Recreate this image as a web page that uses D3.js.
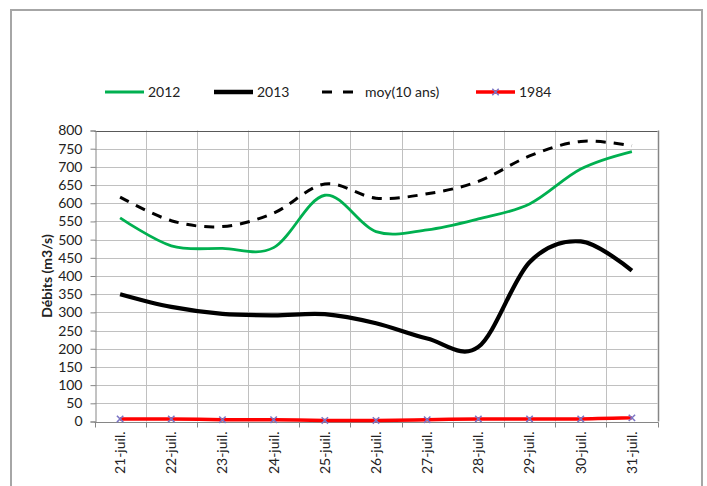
<!DOCTYPE html>
<html><head><meta charset="utf-8">
<script src="https://cdn.jsdelivr.net/npm/d3@7"></script>
<style>
html,body{margin:0;padding:0;background:#fff;}
svg{display:block;font-family:Lato,"Open Sans",sans-serif;}
</style></head>
<body><div id="chart"></div>
<script>
const categories = ["21-juil.","22-juil.","23-juil.","24-juil.","25-juil.","26-juil.","27-juil.","28-juil.","29-juil.","30-juil.","31-juil."];
const s2012 = [560, 483, 476, 478, 622, 522, 527, 557, 598, 694, 742];
const s2013 = [350, 315, 296, 292, 295, 270, 228, 205, 438, 495, 415];
const sMoy  = [617, 552, 536, 573, 653, 614, 626, 660, 730, 770, 758];
const s1984 = [7, 7, 5, 5, 3, 3, 5, 7, 7, 7, 10];
const yTicks = [0,50,100,150,200,250,300,350,400,450,500,550,600,650,700,750,800];
const seriesNames = ["2012","2013","moy(10 ans)","1984"];
const yTitle = "Débits (m3/s)";

const W = 707, H = 486;
const svg = d3.select("#chart").append("svg").attr("width", W).attr("height", H);

// outer chart frame
svg.append("rect").attr("x", 11).attr("y", 10).attr("width", 691).attr("height", 490)
  .attr("fill", "#fff").attr("stroke", "#a6a6a6").attr("stroke-width", 2);

const pL = 94.5, pR = 657.5, pT = 130.5, pB = 421.5;
const x = d3.scaleBand().domain(categories).range([pL, pR]);
const y = d3.scaleLinear().domain([0, 800]).range([pB, pT]);
const cx = c => x(c) + x.bandwidth() / 2;

const g = svg.append("g");
// horizontal gridlines
g.selectAll(".hg").data(yTicks).enter().append("line")
  .attr("x1", pL).attr("x2", pR)
  .attr("y1", d => Math.round(y(d)) + 0.5).attr("y2", d => Math.round(y(d)) + 0.5)
  .attr("stroke", "#c0c0c0").attr("stroke-width", 1);
// vertical gridlines at category boundaries
const bounds = categories.map(c => x(c)).concat([pR]);
g.selectAll(".vg").data(bounds.slice(1, -1)).enter().append("line")
  .attr("x1", d => Math.round(d) + 0.5).attr("x2", d => Math.round(d) + 0.5)
  .attr("y1", pT).attr("y2", pB)
  .attr("stroke", "#c0c0c0").attr("stroke-width", 1);

// plot border
g.append("line").attr("x1", pL).attr("x2", pR).attr("y1", Math.round(pT)+0.5).attr("y2", Math.round(pT)+0.5)
  .attr("stroke", "#595959");
g.append("line").attr("x1", Math.round(pR)+0.5).attr("x2", Math.round(pR)+0.5).attr("y1", pT).attr("y2", pB)
  .attr("stroke", "#868686").attr("stroke-width", 1.5);

// y axis
const yAxis = d3.axisLeft(y).tickValues(yTicks).tickSize(5).tickPadding(8);
const ya = svg.append("g").attr("transform", `translate(${Math.round(pL)+0.5},0)`).call(yAxis);
ya.select(".domain").attr("stroke", "#868686");
ya.selectAll(".tick line").attr("stroke", "#868686");
ya.selectAll("text").attr("font-size", 14).attr("fill", "#222").attr("font-family", "Lato");

// x axis
const xa = svg.append("g").attr("transform", `translate(0,${Math.round(pB)+0.5})`);
xa.append("line").attr("x1", pL).attr("x2", pR + 1).attr("stroke", "#868686");
xa.selectAll(".xt").data(bounds).enter().append("line")
  .attr("x1", d => Math.round(d) + 0.5).attr("x2", d => Math.round(d) + 0.5)
  .attr("y1", 0).attr("y2", 5).attr("stroke", "#868686");
xa.selectAll(".xl").data(categories).enter().append("text")
  .attr("transform", d => `translate(${cx(d)},9) rotate(-90)`)
  .attr("text-anchor", "end").attr("dy", "0.35em")
  .attr("font-size", 14).attr("fill", "#222")
  .text(d => d);

// y title
svg.append("text").attr("transform", `translate(47,${(pT + pB) / 2}) rotate(-90)`)
  .attr("text-anchor", "middle").attr("dy", "0.35em")
  .attr("font-size", 14).attr("font-weight", "bold").attr("fill", "#222")
  .text(yTitle);

const line = d3.line().x((d, i) => cx(categories[i])).y(d => y(d)).curve(d3.curveCatmullRom.alpha(0));

svg.append("path").datum(s1984).attr("d", line).attr("fill", "none").attr("stroke", "#ff0000").attr("stroke-width", 3.5);
const mk = 3.2;
svg.selectAll(".m84").data(s1984).enter().append("path")
  .attr("d", (d, i) => { const px = cx(categories[i]), py = y(d);
    return `M${px-mk},${py-mk}L${px+mk},${py+mk}M${px-mk},${py+mk}L${px+mk},${py-mk}`; })
  .attr("stroke", "#7b74c4").attr("stroke-width", 1.5).attr("fill", "none");

svg.append("path").datum(s2012).attr("d", line).attr("fill", "none").attr("stroke", "#00b050").attr("stroke-width", 2.8);
svg.append("path").datum(sMoy).attr("d", line).attr("fill", "none").attr("stroke", "#000").attr("stroke-width", 3).attr("stroke-dasharray", "10,8");
svg.append("path").datum(s2013).attr("d", line).attr("fill", "none").attr("stroke", "#000").attr("stroke-width", 4.2);

// legend
const ly = 92;
const legend = [
  {x1: 105, x2: 144, tx: 148, color: "#00b050", w: 2.8, dash: null, marker: false},
  {x1: 214, x2: 253, tx: 257, color: "#000", w: 4.5, dash: null, marker: false},
  {x1: 322, x2: 354, tx: 365, color: "#000", w: 3, dash: "10,11", marker: false},
  {x1: 476, x2: 515, tx: 519, color: "#ff0000", w: 3.5, dash: null, marker: true}
];
legend.forEach((l, i) => {
  const ln = svg.append("line").attr("x1", l.x1).attr("x2", l.x2).attr("y1", ly).attr("y2", ly)
    .attr("stroke", l.color).attr("stroke-width", l.w);
  if (l.dash) ln.attr("stroke-dasharray", l.dash);
  if (l.marker) {
    const px = (l.x1 + l.x2) / 2;
    svg.append("path").attr("d", `M${px-mk},${ly-mk}L${px+mk},${ly+mk}M${px-mk},${ly+mk}L${px+mk},${ly-mk}`)
      .attr("stroke", "#7b74c4").attr("stroke-width", 1.5);
  }
  svg.append("text").attr("x", l.tx).attr("y", ly).attr("dy", "0.35em")
    .attr("font-size", 14).attr("fill", "#222").text(seriesNames[i]);
});
</script></body></html>
